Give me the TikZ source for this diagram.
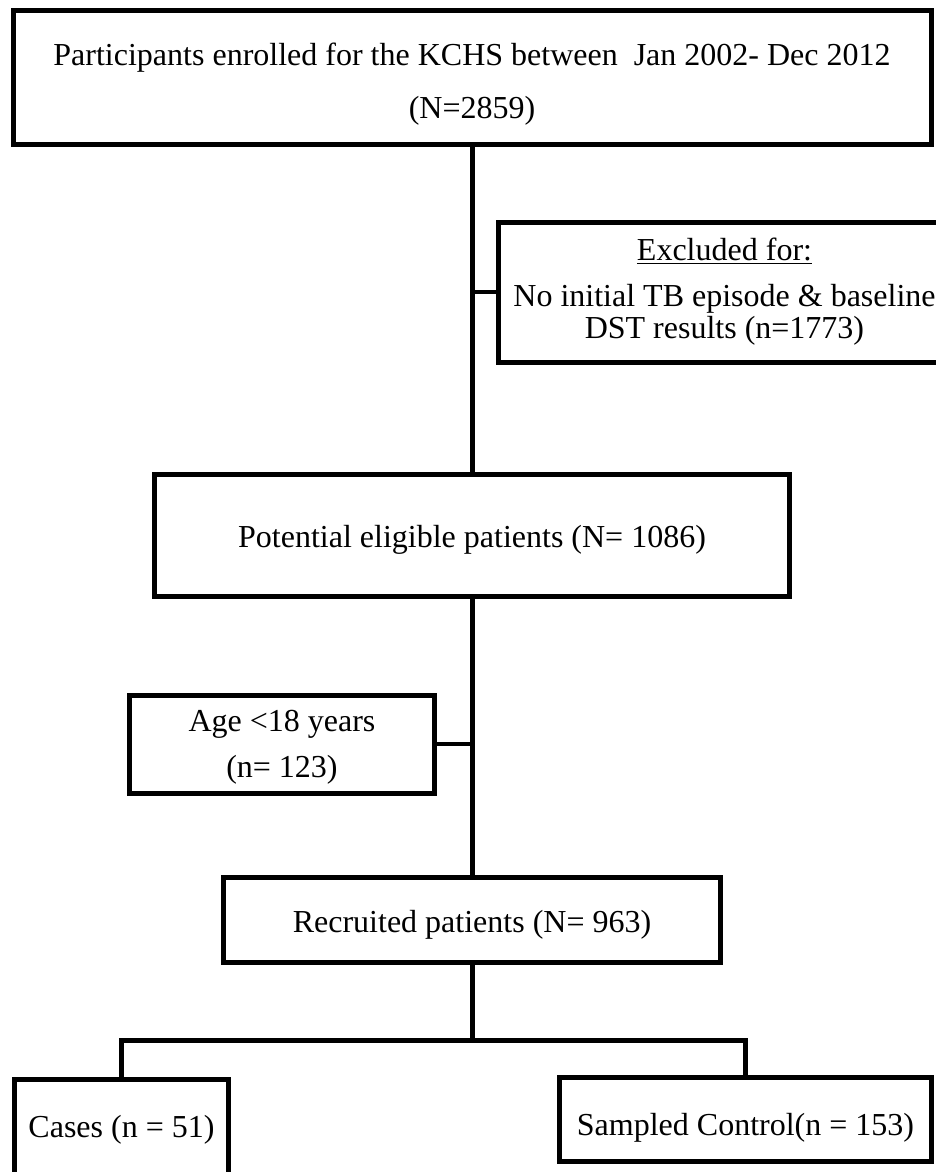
\documentclass[tikz,border=0pt]{standalone}
\usepackage{fontspec}
\setmainfont{Liberation Serif}
\usetikzlibrary{positioning}
\tikzstyle{stage} = [rectangle, draw, line width=5pt, fill=white, align=center,
                     inner sep=0pt, font=\fontsize{32}{32}\selectfont]
\tikzstyle{link} = [draw, line width=5pt]

\begin{document}
\begin{tikzpicture}[x=1pt, y=1pt]
        \useasboundingbox (0,0) rectangle (935,-1172);
        \node [stage, minimum width=918pt, minimum height=134pt] at (472,-77.5) (enrol)
              {\rule{0pt}{35pt}Participants enrolled for the KCHS between\ \ Jan 2002- Dec 2012 \\[21pt] (N=2859)};
        \coordinate [below=145pt of enrol] (aux1);
        \node [stage, minimum width=452pt, minimum height=140pt, right=24pt of aux1] (excl)
              {\underline{Excluded for:} \\[14pt] No initial TB episode \& baseline \\ DST results (n=1773)};
        \node [stage, minimum width=635pt, minimum height=122pt, text height=30pt, below=325pt of enrol] (elig)
              {Potential eligible patients (N= 1086)};
        \coordinate [below=145pt of elig] (aux2);
        \node [stage, minimum width=305pt, minimum height=98pt, left=35pt of aux2] (age)
              {\rule{0pt}{28pt}Age <18 years \\[14pt] (n= 123)};
        \node [stage, minimum width=497pt, minimum height=85pt, text height=31pt, below=276pt of elig] (recr)
              {Recruited patients (N= 963)};
        \coordinate [below=75pt of recr] (split);
        \node [stage, minimum width=214pt, minimum height=100pt, below=37pt of split, xshift=-350.5pt] (cases)
              {Cases (n = 51)};
        \node [stage, minimum width=372pt, minimum height=84pt, text height=38pt, below=35pt of split, xshift=273.5pt] (ctrl)
              {Sampled Control(n = 153)};

        \draw [link] (enrol) -- (elig);
        \draw [link, line width=4pt] (aux1) -- (excl);
        \draw [link] (elig) -- (recr);
        \draw [link, line width=4pt] (aux2) -- (age);
        \draw [link] (recr) -- (split);
        \draw [link] (split) -| (cases);
        \draw [link] (split) -| (ctrl);

    \end{tikzpicture}
\end{document}
